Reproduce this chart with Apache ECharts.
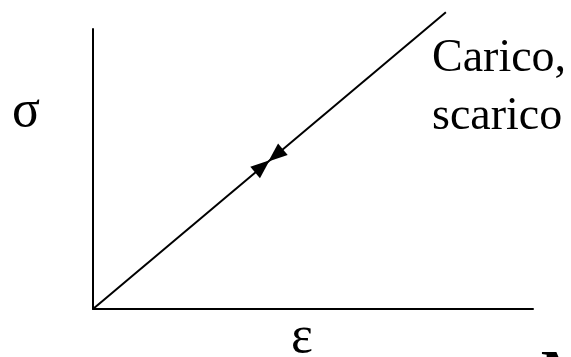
<!DOCTYPE html>
<html>
<head>
<meta charset="utf-8">
<script src="https://cdn.jsdelivr.net/npm/echarts@6/dist/echarts.min.js"></script>
<style>
  html, body { margin: 0; padding: 0; background: #fff; }
  #chart { width: 571px; height: 357px; }
</style>
</head>
<body>
<div id="chart"></div>
<script>
// loading / unloading path (sigma vs epsilon, arbitrary units)
const strainValues = [0, 8.02]
const stressValues = [0, 10.6]

// arrowheads meeting in the middle of the line: [x, y, rotation]
const arrowPoints = [
  [3.85, 5.09, -50],  // carico (going up)
  [4.15, 5.49, 130]   // scarico (coming down)
]

const xAxisMax = 10
const yAxisMax = 10

const labelLines = ["Carico,", "scarico"]

const chart = echarts.init(document.getElementById("chart"))

const lineData = strainValues.map((x, i) => [x, stressValues[i]])

const option = {
  animation: false,
  grid: { left: 93, top: 29, right: 38, bottom: 48 },
  xAxis: {
    type: "value",
    min: 0,
    max: xAxisMax,
    axisLine: { show: true, lineStyle: { color: "#000", width: 2 } },
    axisTick: { show: false },
    axisLabel: { show: false },
    splitLine: { show: false }
  },
  yAxis: {
    type: "value",
    min: 0,
    max: yAxisMax,
    axisLine: { show: true, lineStyle: { color: "#000", width: 2 } },
    axisTick: { show: false },
    axisLabel: { show: false },
    splitLine: { show: false }
  },
  series: [
    {
      type: "line",
      data: lineData,
      showSymbol: false,
      clip: false,
      lineStyle: { color: "#000", width: 2 }
    },
    {
      type: "scatter",
      symbol: "triangle",
      symbolSize: [15, 19],
      clip: false,
      itemStyle: { color: "#000", opacity: 1 },
      data: arrowPoints.map(p => ({ value: [p[0], p[1]], symbolRotate: p[2] }))
    }
  ],
  graphic: [
    {
      type: "text",
      left: 12,
      top: 86,
      style: { text: "σ", font: "52px 'Liberation Serif'", fill: "#000" }
    },
    {
      type: "text",
      left: 291,
      top: 312,
      style: { text: "ε", font: "52px 'Liberation Serif'", fill: "#000" }
    },
    {
      type: "text",
      left: 432,
      top: 30,
      style: {
        text: labelLines.join("\n"),
        font: "46px 'Liberation Serif'",
        lineHeight: 58,
        fill: "#000"
      }
    },
    {
      type: "text",
      left: 541,
      top: 348,
      style: { text: "M", font: "bold 56px 'Liberation Serif'", fill: "#000" }
    }
  ]
}

chart.setOption(option)
</script>
</body>
</html>
